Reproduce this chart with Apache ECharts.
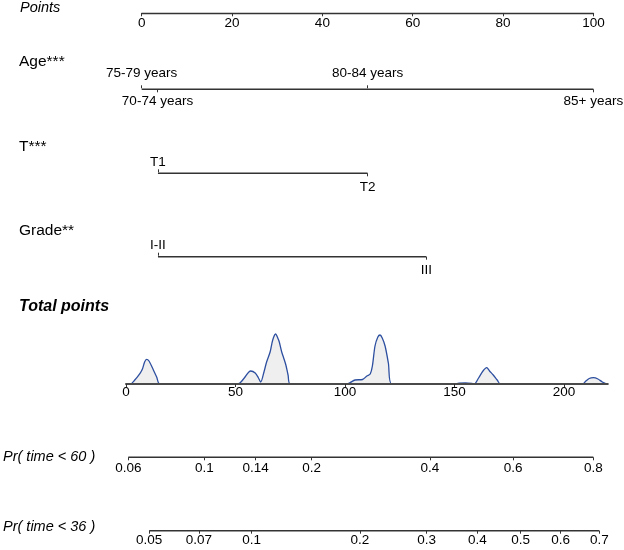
<!DOCTYPE html>
<html>
<head>
<meta charset="utf-8">
<script src="https://cdn.jsdelivr.net/npm/echarts@6/dist/echarts.min.js"></script>
<style>
html,body{margin:0;padding:0;background:#fff;}
#nomo{width:624px;height:550px;}
</style>
</head>
<body>
<div id="nomo"></div>
<script>
// ---- data ----
var pointsTicks = [0, 20, 40, 60, 80, 100];

// levels sorted by points, labels alternate above / below the line
var ageNames  = ['75-79 years', '70-74 years', '80-84 years', '85+ years'];
var agePoints = [0, 3.5, 50, 100];
var tNames    = ['T1', 'T2'];
var tPoints   = [3.6, 50];
var gradeNames  = ['I-II', 'III'];
var gradePoints = [3.6, 63];

var totalTicks = [0, 50, 100, 150, 200];

// distribution of total points (height of the grey density)
var densityTotal = [0, 2, 4, 6.4, 7.5, 8.5, 9.4, 10.5, 12.5, 14, 15.5,
  50, 52, 54, 56.9, 59, 60.5, 61.5, 63, 64.2, 65.8, 67, 68.3, 69.5, 70, 71.1, 72, 73, 74, 75,
  100, 102, 104.6, 108, 110, 111.5, 112.5, 113.7, 115, 116, 117, 118.3, 119.8, 121.3,
  150, 152, 155, 158, 159, 161, 163, 164.7, 166, 167.7, 169.5, 171,
  200, 208.5, 210, 211.5, 213.4, 215.5, 217.5, 219.5];
var densityHeight = [0, 0, 4, 10.7, 15, 22, 24.7, 23, 14, 7, 0,
  0, 1, 6, 13, 11, 6, 2, 12, 22, 32, 44, 50, 45, 42, 32, 26, 19, 9, 0,
  0, 1, 4, 4.5, 8, 10, 18, 38, 47, 49, 46, 38, 21, 0,
  0, 0.8, 1, 0.5, 0, 6, 13, 16.3, 13, 9, 4, 0,
  0, 0, 3, 5.5, 6.3, 5, 2, 0];

// probability scales: label -> total points where it sits
var pr60Labels = ['0.06', '0.1', '0.14', '0.2', '0.4', '0.6', '0.8'];
var pr60Total  = [1.05, 35.8, 59.2, 84.8, 138.8, 176.8, 213.4];
var pr36Labels = ['0.05', '0.07', '0.1', '0.2', '0.3', '0.4', '0.5', '0.6', '0.7'];
var pr36Total  = [10.6, 33.3, 57.4, 106.8, 137.3, 160.4, 180.2, 198.5, 216.1];

// ---- layout ----
var FONT = '"Liberation Sans", Arial, sans-serif';
var LINE = '#333';
var PTS = {left: 141.7, width: 451.7, min: 0, max: 100};   // Points scale
var TOT = {left: 126,   width: 481.8, min: 0, max: 220};   // Total points scale

var grids = [], xAxes = [], yAxes = [], series = [];

function lookup(names, vals){
    return function(v){
        var best = 0;
        for (var i = 1; i < vals.length; i++) {
            if (Math.abs(vals[i] - v) < Math.abs(vals[best] - v)) best = i;
        }
        return names[best];
    };
}

function axis(gi, scale, pos, vals, fmt, margin, lineStyle){
    return {
        gridIndex: gi, type: 'value', position: pos,
        min: scale.min, max: scale.max,
        axisLine: {show: !!lineStyle, lineStyle: lineStyle || {}},
        axisTick: {show: true, customValues: vals, length: 3, lineStyle: {color: LINE, width: 1}},
        axisLabel: {customValues: vals, formatter: fmt, margin: margin,
                    fontSize: 13.5, fontFamily: FONT, color: '#000'},
        splitLine: {show: false}
    };
}

// one nomogram row: line at pixel y, ticks/labels from names+vals
function addRow(y, scale, names, vals, opt){
    var gi = grids.length;
    grids.push({left: scale.left, width: scale.width, top: y - 1, height: 1,
                containLabel: false, outerBoundsMode: 'none'});
    yAxes.push({gridIndex: gi, type: 'value', min: 0, max: 1, show: false});
    var up = [], down = [];
    vals.forEach(function(v, i){
        if (opt.alternate && i % 2 === 0) up.push(v); else down.push(v);
    });
    var fmt = lookup(names, vals);
    var xi = xAxes.length;
    xAxes.push(axis(gi, scale, 'bottom', down, fmt, opt.downMargin,
                    opt.axisLine ? {color: LINE, width: 1.4} : null));
    if (up.length) xAxes.push(axis(gi, scale, 'top', up, fmt, opt.upMargin, null));
    if (!opt.axisLine) {
        series.push({
            type: 'line', xAxisIndex: xi, yAxisIndex: gi, clip: false, silent: true,
            symbol: 'none', lineStyle: {color: LINE, width: 1.4},
            data: [[vals[0], 0], [vals[vals.length - 1], 0]]
        });
    }
}

addRow(13.3, PTS, pointsTicks.map(String), pointsTicks, {axisLine: true, downMargin: 3});
addRow(89.3, PTS, ageNames, agePoints, {alternate: true, upMargin: 8, downMargin: 5});
addRow(173.3, PTS, tNames, tPoints, {alternate: true, upMargin: 3, downMargin: 7});
addRow(256.7, PTS, gradeNames, gradePoints, {alternate: true, upMargin: 3, downMargin: 7});
addRow(457.3, TOT, pr60Labels, pr60Total, {downMargin: 4});
addRow(530.7, TOT, pr36Labels, pr36Total, {downMargin: 3});

// total points axis with the density above it
var dg = grids.length;
grids.push({left: TOT.left, width: TOT.width, top: 384 - 52, height: 52,
            containLabel: false, outerBoundsMode: 'none'});
yAxes.push({gridIndex: dg, type: 'value', min: 0, max: 52, show: false});
var dx = xAxes.length;
var totAxis = axis(dg, TOT, 'bottom', totalTicks, lookup(totalTicks.map(String), totalTicks), 1,
                   {color: '#4a4a4a', width: 2});
totAxis.z = 5;
xAxes.push(totAxis);
series.push({
    type: 'line', xAxisIndex: dx, yAxisIndex: dg, silent: true, clip: false,
    smooth: 0.3, symbol: 'none',
    lineStyle: {color: '#2d4fa0', width: 1.3},
    areaStyle: {color: '#efefef', opacity: 1},
    data: densityTotal.map(function(t, i){ return [t, densityHeight[i]]; })
});

function title(txt, x, y, size, style, weight){
    return {type: 'text', x: x, y: y, silent: true,
            style: {text: txt, fill: '#000', fontSize: size, fontFamily: FONT,
                    fontStyle: style || 'normal', fontWeight: weight || 'normal',
                    align: 'left', verticalAlign: 'middle'}};
}

var chart = echarts.init(document.getElementById('nomo'));
chart.setOption({
    animation: false,
    grid: grids,
    xAxis: xAxes,
    yAxis: yAxes,
    series: series,
    graphic: [
        title('Points', 20, 8, 14.5, 'italic'),
        title('Age***', 19, 62, 15.5),
        title('T***', 19, 147, 15.5),
        title('Grade**', 19, 231, 15.5),
        title('Total points', 19, 307, 16, 'italic', 'bold'),
        title('Pr( time < 60 )', 3, 457, 14.5, 'italic'),
        title('Pr( time < 36 )', 3, 527, 14.5, 'italic')
    ]
});
</script>
</body>
</html>
